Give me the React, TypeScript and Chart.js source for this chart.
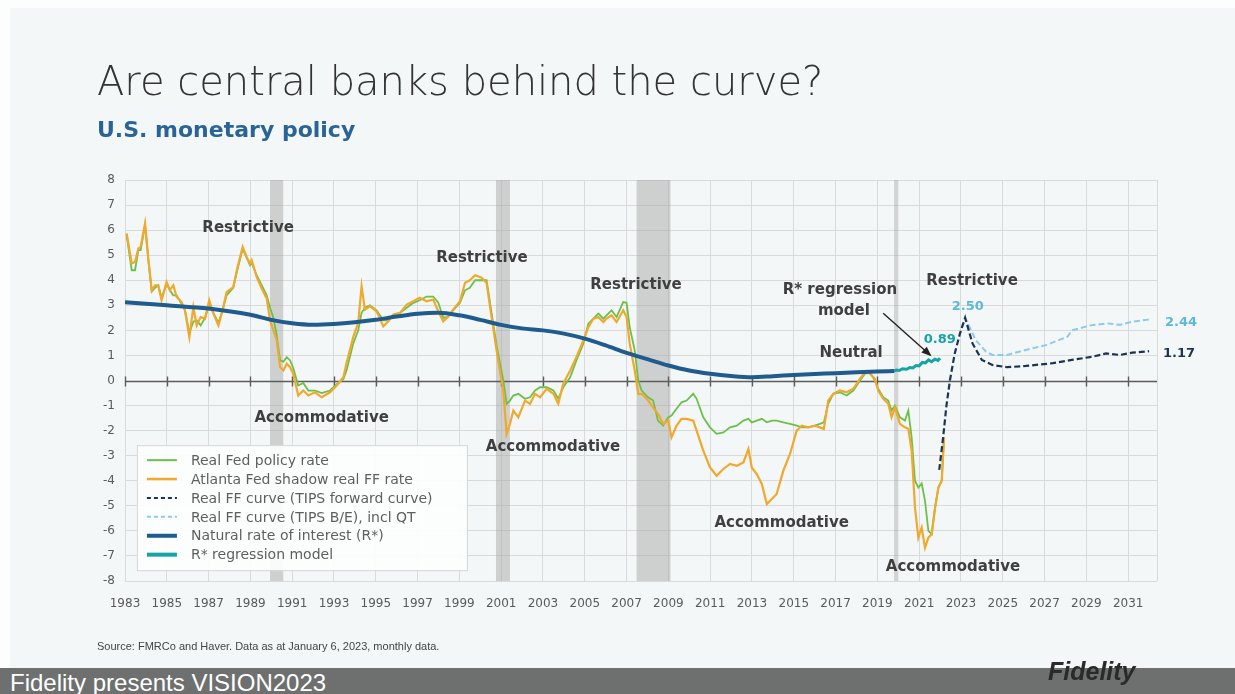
import React, { useEffect, useRef } from "react";
import { Chart, registerables } from "chart.js";

Chart.register(...registerables);

// ---------- DATA ----------
const policyDates = [
  1983.08, 1983.32, 1983.48, 1983.64, 1983.75, 1983.96, 1984.12, 1984.28, 1984.44, 1984.59,
  1984.75, 1984.99, 1985.15, 1985.31, 1985.47, 1985.71, 1985.87, 1986.08, 1986.27, 1986.43,
  1986.62, 1986.83, 1987.03, 1987.23, 1987.47, 1987.67, 1987.86, 1988.18, 1988.37, 1988.63,
  1988.82, 1988.98, 1989.06, 1989.3, 1989.54, 1989.78, 1989.94, 1990.1, 1990.26, 1990.42,
  1990.58, 1990.74, 1990.9, 1991.05, 1991.29, 1991.53, 1991.77, 1992.09, 1992.41, 1992.81,
  1993.13, 1993.45, 1993.6, 1993.93, 1994.16, 1994.32, 1994.48, 1994.72, 1995.04, 1995.36,
  1995.6, 1995.84, 1996.16, 1996.48, 1996.8, 1997.1, 1997.43, 1997.75, 1997.99, 1998.23,
  1998.47, 1998.7, 1999.03, 1999.27, 1999.5, 1999.75, 2000.06, 2000.3, 2000.54, 2000.78,
  2001.1, 2001.26, 2001.42, 2001.58, 2001.82, 2002.14, 2002.38, 2002.62, 2002.86, 2003.18,
  2003.5, 2003.73, 2003.97, 2004.3, 2004.6, 2004.93, 2005.17, 2005.41, 2005.65, 2005.89,
  2006.04, 2006.28, 2006.52, 2006.84, 2007.0, 2007.15, 2007.39, 2007.56, 2007.72, 2008.03,
  2008.27, 2008.5, 2008.75, 2008.99, 2009.15, 2009.39, 2009.63, 2009.87, 2010.19, 2010.35,
  2010.67, 2010.99, 2011.31, 2011.63, 2011.95, 2012.27, 2012.59, 2012.83, 2012.99, 2013.23,
  2013.47, 2013.71, 2013.95, 2014.18, 2014.5, 2014.82, 2015.14, 2015.38, 2015.7, 2016.01,
  2016.25, 2016.44, 2016.65, 2016.89, 2017.21, 2017.53, 2017.85, 2018.17, 2018.41, 2018.64,
  2018.88, 2019.04, 2019.28, 2019.52, 2019.68, 2019.84, 2020.08, 2020.32, 2020.48, 2020.64,
  2020.8, 2020.96, 2021.12, 2021.28, 2021.44, 2021.6, 2021.76, 2021.92, 2022.08, 2022.19,
];

const shadowRates = [
  5.87, 4.67, 4.73, 5.27, 5.33, 6.27, 4.8, 3.6, 3.8, 3.8,
  3.2, 3.93, 3.6, 3.8, 3.33, 3.13, 2.8, 1.73, 2.93, 2.2,
  2.53, 2.47, 3.2, 2.67, 2.2, 2.8, 3.53, 3.73, 4.47, 5.33,
  4.93, 4.67, 4.8, 4.13, 3.67, 3.27, 2.4, 2.0, 1.6, 0.53,
  0.4, 0.67, 0.53, 0.27, -0.6, -0.4, -0.6, -0.47, -0.67, -0.47,
  -0.2, 0.13, 0.7, 1.76, 2.3, 3.76, 2.83, 2.96, 2.76, 2.16,
  2.36, 2.63, 2.7, 3.03, 3.16, 3.3, 3.16, 3.23, 2.76, 2.36,
  2.56, 2.83, 3.16, 3.9, 4.0, 4.2, 4.1, 3.9, 2.53, 1.2,
  -0.4, -2.13, -1.73, -1.2, -1.47, -0.8, -0.93, -0.53, -0.67, -0.33,
  -0.53, -0.93, -0.13, 0.4, 0.93, 1.6, 2.13, 2.47, 2.53, 2.33,
  2.47, 2.6, 2.33, 2.8, 2.53, 1.47, 0.4, -0.53, -0.53, -0.8,
  -1.07, -1.33, -1.73, -1.6, -2.27, -1.8, -1.53, -1.53, -1.6, -2.0,
  -2.8, -3.47, -3.8, -3.53, -3.33, -3.4, -3.27, -2.73, -3.47, -3.73,
  -4.13, -4.93, -4.73, -4.53, -3.6, -2.93, -2.0, -1.8, -1.87, -1.8,
  -1.87, -1.93, -0.8, -0.53, -0.4, -0.47, -0.33, 0.07, 0.33, 0.27,
  0.07, -0.4, -0.73, -0.93, -1.47, -1.07, -1.73, -1.87, -1.93, -2.8,
  -5.07, -6.27, -5.87, -6.67, -6.27, -6.13, -5.07, -4.27, -4.0, -2.27,
];

const realFedRates = [
  5.8, 4.4, 4.4, 5.2, 5.2, 6.2, 4.8, 3.55, 3.7, 3.8,
  3.3, 3.85, 3.6, 3.4, 3.4, 3.05, 2.8, 1.9, 2.35, 2.4,
  2.2, 2.5, 3.0, 2.7, 2.3, 2.8, 3.4, 3.7, 4.4, 5.25,
  4.9, 4.6, 4.7, 4.2, 3.8, 3.4, 2.9, 2.5, 1.8, 0.8,
  0.75, 0.93, 0.8, 0.5, -0.2, -0.1, -0.4, -0.4, -0.5, -0.4,
  -0.15, 0.05, 0.4, 1.5, 2.0, 2.7, 2.9, 3.0, 2.8, 2.4,
  2.4, 2.6, 2.7, 2.9, 3.1, 3.2, 3.35, 3.35, 3.1, 2.5,
  2.55, 2.8, 3.1, 3.6, 3.7, 4.0, 4.0, 4.0, 2.7, 1.4,
  0.0, -0.93, -0.8, -0.6, -0.53, -0.73, -0.67, -0.4, -0.27, -0.27,
  -0.4, -0.73, -0.27, 0.13, 0.8, 1.47, 2.27, 2.47, 2.67, 2.47,
  2.6, 2.8, 2.53, 3.13, 3.1, 2.13, 1.2, 0.0, -0.4, -0.67,
  -0.8, -1.6, -1.8, -1.47, -1.4, -1.13, -0.87, -0.8, -0.53, -0.73,
  -1.47, -1.87, -2.13, -2.07, -1.87, -1.8, -1.6, -1.53, -1.67, -1.6,
  -1.53, -1.67, -1.6, -1.6, -1.67, -1.73, -1.8, -1.87, -1.87, -1.8,
  -1.73, -1.67, -0.93, -0.53, -0.47, -0.6, -0.4, 0.0, 0.27, 0.33,
  0.0, -0.33, -0.67, -0.8, -1.2, -1.0, -1.47, -1.6, -1.2, -2.27,
  -4.0, -4.27, -4.1, -4.8, -6.0, -6.13, -5.07, -4.27, -4.0, -2.27,
];

const rStarDates = [
  1983, 1985, 1987, 1989, 1990, 1991, 1992, 1993, 1994, 1995,
  1996, 1997, 1998, 1999, 2000, 2001, 2002, 2003, 2004, 2005,
  2006, 2007, 2008, 2009, 2010, 2011, 2012, 2013, 2014, 2015,
  2016, 2017, 2018, 2019, 2019.8,
];
const rStarValues = [
  3.12, 3.0, 2.87, 2.62, 2.42, 2.28, 2.22, 2.25, 2.32, 2.42,
  2.55, 2.66, 2.7, 2.6, 2.42, 2.22, 2.08, 2.0, 1.87, 1.67,
  1.4, 1.1, 0.85, 0.6, 0.4, 0.27, 0.18, 0.13, 0.17, 0.22,
  0.26, 0.29, 0.33, 0.36, 0.38,
];

const regressionDates = [
  2019.76, 2019.9, 2020.05, 2020.2, 2020.4, 2020.55, 2020.7, 2020.85,
  2021.0, 2021.15, 2021.3, 2021.45, 2021.6, 2021.75, 2021.9, 2022.0,
];
const regressionValues = [
  0.36, 0.42, 0.4, 0.47, 0.45, 0.52, 0.5, 0.6,
  0.58, 0.72, 0.7, 0.82, 0.75, 0.85, 0.8, 0.89,
];

const forwardDates = [
  2021.96, 2022.15, 2022.3, 2022.47, 2022.7, 2022.95, 2023.2, 2023.55, 2024.0, 2024.5,
  2025.2, 2026.1, 2027.4, 2028.3, 2029.3, 2029.95, 2030.6, 2031.2, 2032.0,
];
const forwardValues = [
  -3.57, -2.24, -1.04, 0.0, 1.07, 1.87, 2.5, 1.48, 0.82, 0.62,
  0.53, 0.58, 0.69, 0.82, 0.95, 1.08, 1.02, 1.11, 1.17,
];

const breakevenDates = [
  2023.02, 2023.2, 2023.7, 2024.2, 2024.5, 2025.2, 2026.1, 2027.1, 2028.1, 2028.3,
  2029.2, 2030.0, 2030.6, 2031.2, 2032.1,
];
const breakevenValues = [
  2.1, 2.5, 1.62, 1.15, 1.02, 1.02, 1.22, 1.42, 1.75, 2.0,
  2.2, 2.28, 2.22, 2.35, 2.44,
];

const recessionStarts = [1989.94, 2000.75, 2007.48, 2019.8];
const recessionEnds = [1990.57, 2001.42, 2009.1, 2020.0];

const yearTicks = [
  1983, 1985, 1987, 1989, 1991, 1993, 1995, 1997, 1999, 2001, 2003, 2005, 2007,
  2009, 2011, 2013, 2015, 2017, 2019, 2021, 2023, 2025, 2027, 2029, 2031,
];

const legendLabels = [
  "Real Fed policy rate",
  "Atlanta Fed shadow real FF rate",
  "Real FF curve (TIPS forward curve)",
  "Real FF curve (TIPS B/E), incl QT",
  "Natural rate of interest (R*)",
  "R* regression model",
];

// ---------- STYLE ----------
const C_GREEN = "#6cbf4c";
const C_ORANGE = "#f0a92c";
const C_NAVY = "#1f5b8e";
const C_TEAL = "#17a3a5";
const C_DARKDASH = "#1b3456";
const C_LIGHTDASH = "#8ccbe8";
const FONT = '"DejaVu Sans", sans-serif';

const X_MIN = 1983;
const X_MAX = 2032.38;

const pts = (xs: number[], ys: number[]) => xs.map((x, i) => ({ x, y: ys[i] }));

const overlayPlugin = {
  id: "overlay",
  beforeDatasetsDraw(chart: any) {
    const { ctx, chartArea, scales } = chart;
    const x = scales.x;
    const y = scales.y;
    ctx.save();
    for (let i = 0; i < recessionStarts.length; i++) {
      const x0 = x.getPixelForValue(recessionStarts[i]);
      const x1 = x.getPixelForValue(recessionEnds[i]);
      ctx.fillStyle = i === 3 ? "rgba(150,150,150,0.35)" : "rgba(160,160,160,0.45)";
      ctx.fillRect(x0, chartArea.top, x1 - x0, chartArea.bottom - chartArea.top);
    }
    const y0 = Math.round(y.getPixelForValue(0)) + 0.5;
    ctx.strokeStyle = "#5c5c5c";
    ctx.lineWidth = 1.4;
    ctx.beginPath();
    ctx.moveTo(chartArea.left, y0);
    ctx.lineTo(chartArea.right, y0);
    for (const yr of yearTicks) {
      const px = Math.round(x.getPixelForValue(yr)) + 0.5;
      ctx.moveTo(px, y0 - 5);
      ctx.lineTo(px, y0 + 5);
    }
    ctx.stroke();
    ctx.restore();
  },
  afterDatasetsDraw(chart: any) {
    const { ctx, scales } = chart;
    const x = scales.x;
    const y = scales.y;
    const px = (v: number) => x.getPixelForValue(v);
    const py = (v: number) => y.getPixelForValue(v);
    ctx.save();
    ctx.textAlign = "center";
    ctx.textBaseline = "middle";

    ctx.fillStyle = "#3f3f3f";
    ctx.font = `bold 15px ${FONT}`;
    const regimes: [string, number, number][] = [
      ["Restrictive", 1988.89, 6.09],
      ["Restrictive", 2000.08, 4.89],
      ["Restrictive", 2007.45, 3.81],
      ["Restrictive", 2023.53, 3.97],
      ["Accommodative", 1992.41, -1.5],
      ["Accommodative", 2003.48, -2.64],
      ["Accommodative", 2014.42, -5.69],
      ["Accommodative", 2022.62, -7.43],
      ["Neutral", 2017.74, 1.09],
      ["R* regression", 2017.21, 3.61],
      ["model", 2017.4, 2.75],
    ];
    for (const [t, a, b] of regimes) ctx.fillText(t, px(a), py(b));

    ctx.font = `bold 13px ${FONT}`;
    ctx.fillStyle = C_TEAL;
    ctx.fillText("0.89", px(2021.99), py(1.62));
    ctx.fillStyle = "#5cb9d8";
    ctx.fillText("2.50", px(2023.33), py(2.95));
    ctx.fillText("2.44", px(2033.53), py(2.31));
    ctx.fillStyle = C_DARKDASH;
    ctx.fillText("1.17", px(2033.43), py(1.09));

    const ax0 = px(2019.28), ay0 = py(2.68), ax1 = px(2021.52), ay1 = py(1.02);
    ctx.strokeStyle = "#222";
    ctx.fillStyle = "#222";
    ctx.lineWidth = 1.4;
    ctx.beginPath();
    ctx.moveTo(ax0, ay0);
    ctx.lineTo(ax1, ay1);
    ctx.stroke();
    const ang = Math.atan2(ay1 - ay0, ax1 - ax0);
    ctx.beginPath();
    ctx.moveTo(ax1 + 2 * Math.cos(ang), ay1 + 2 * Math.sin(ang));
    ctx.lineTo(ax1 - 8 * Math.cos(ang) + 4 * Math.sin(ang), ay1 - 8 * Math.sin(ang) - 4 * Math.cos(ang));
    ctx.lineTo(ax1 - 8 * Math.cos(ang) - 4 * Math.sin(ang), ay1 - 8 * Math.sin(ang) + 4 * Math.cos(ang));
    ctx.closePath();
    ctx.fill();

    const lx = px(1983.57), ly = py(-2.58);
    const lw = 330, lh = 125;
    ctx.fillStyle = "rgba(252,253,253,0.95)";
    ctx.fillRect(lx, ly, lw, lh);
    ctx.strokeStyle = "#d6d6d6";
    ctx.lineWidth = 1;
    ctx.strokeRect(lx + 0.5, ly + 0.5, lw, lh);
    const styles = [
      { c: C_GREEN, w: 2, d: [] as number[] },
      { c: C_ORANGE, w: 2.5, d: [] as number[] },
      { c: C_DARKDASH, w: 2, d: [4, 3] },
      { c: C_LIGHTDASH, w: 2, d: [4, 3] },
      { c: C_NAVY, w: 4, d: [] as number[] },
      { c: C_TEAL, w: 4, d: [] as number[] },
    ];
    ctx.textAlign = "left";
    ctx.font = `14px ${FONT}`;
    for (let i = 0; i < legendLabels.length; i++) {
      const ry = ly + 15 + i * 18.9;
      const s = styles[i];
      ctx.strokeStyle = s.c;
      ctx.lineWidth = s.w;
      ctx.setLineDash(s.d);
      ctx.beginPath();
      ctx.moveTo(lx + 10, ry);
      ctx.lineTo(lx + 40, ry);
      ctx.stroke();
      ctx.setLineDash([]);
      ctx.fillStyle = "#5f5f5f";
      ctx.fillText(legendLabels[i], lx + 54, ry + 1);
    }
    ctx.restore();
  },
};

export default function App() {
  const canvasRef = useRef<HTMLCanvasElement | null>(null);

  useEffect(() => {
    const canvas = canvasRef.current;
    if (!canvas) return;
    const base = { pointRadius: 0, pointHoverRadius: 0, fill: false, spanGaps: true };
    const chart = new Chart(canvas, {
      type: "line",
      data: {
        datasets: [
          {
            ...base,
            label: legendLabels[4],
            data: pts(rStarDates, rStarValues),
            borderColor: C_NAVY,
            borderWidth: 4,
            cubicInterpolationMode: "monotone",
            order: 0,
          },
          {
            ...base,
            label: legendLabels[5],
            data: pts(regressionDates, regressionValues),
            borderColor: C_TEAL,
            borderWidth: 3,
            order: 1,
          },
          {
            ...base,
            label: legendLabels[2],
            data: pts(forwardDates, forwardValues),
            borderColor: C_DARKDASH,
            borderWidth: 2.2,
            borderDash: [6, 3],
            order: 2,
          },
          {
            ...base,
            label: legendLabels[3],
            data: pts(breakevenDates, breakevenValues),
            borderColor: C_LIGHTDASH,
            borderWidth: 2,
            borderDash: [6, 3],
            order: 3,
          },
          {
            ...base,
            label: legendLabels[1],
            data: pts(policyDates, shadowRates),
            borderColor: C_ORANGE,
            borderWidth: 2.2,
            order: 4,
          },
          {
            ...base,
            label: legendLabels[0],
            data: pts(policyDates, realFedRates),
            borderColor: C_GREEN,
            borderWidth: 1.8,
            order: 5,
          },
        ],
      },
      options: {
        animation: false,
        responsive: false,
        events: [],
        layout: { padding: { left: 0, top: 180, right: 78, bottom: 0 } },
        plugins: { legend: { display: false }, tooltip: { enabled: false }, title: { display: false } },
        scales: {
          x: {
            type: "linear",
            min: X_MIN,
            max: X_MAX,
            afterBuildTicks: (s: any) => {
              s.ticks = yearTicks.map((v) => ({ value: v })).concat([{ value: X_MAX }]);
            },
            afterFit: (s: any) => {
              s.height = 113;
            },
            ticks: {
              autoSkip: false,
              maxRotation: 0,
              padding: 16,
              color: "#5a5a5a",
              font: { family: FONT, size: 12 },
              callback: (v: any) => (yearTicks.includes(v) ? String(v) : ""),
            },
            grid: { color: "#dadada", lineWidth: 1, drawTicks: false },
            border: { display: false },
          },
          y: {
            min: -8,
            max: 8,
            afterFit: (s: any) => {
              s.width = 125;
            },
            ticks: {
              stepSize: 1,
              padding: 10,
              color: "#5a5a5a",
              font: { family: FONT, size: 12 },
            },
            grid: {
              color: (c: any) => (c.tick && c.tick.value === 0 ? "rgba(0,0,0,0)" : "#dadada"),
              lineWidth: 1,
              drawTicks: false,
            },
            border: { display: false },
          },
        },
      },
      plugins: [overlayPlugin],
    } as any);
    return () => chart.destroy();
  }, []);

  return (
    <div
      style={{
        position: "fixed",
        left: 0,
        top: 0,
        width: 1235,
        height: 694,
        overflow: "hidden",
        background: "#fcfdfd",
      }}
    >
      <div style={{ position: "absolute", left: 10, top: 8, width: 1225, height: 660, background: "#f4f7f7" }} />
      <canvas ref={canvasRef} width={1235} height={694} style={{ position: "absolute", left: 0, top: 0, width: 1235, height: 694 }} />
      <div
        style={{
          position: "absolute",
          left: 97,
          top: 61,
          fontFamily: FONT,
          fontWeight: 200,
          fontSize: 40,
          lineHeight: "40px",
          color: "#333333",
          whiteSpace: "nowrap",
        }}
      >
        Are central banks behind the curve?
      </div>
      <div
        style={{
          position: "absolute",
          left: 97,
          top: 119,
          fontFamily: FONT,
          fontWeight: 700,
          fontSize: 22,
          lineHeight: "22px",
          color: "#2a6496",
          whiteSpace: "nowrap",
        }}
      >
        U.S. monetary policy
      </div>
      <div
        style={{
          position: "absolute",
          left: 97,
          top: 641,
          fontFamily: '"Liberation Sans", Arial, sans-serif',
          fontSize: 11,
          lineHeight: "11px",
          color: "#444",
          whiteSpace: "nowrap",
        }}
      >
        Source: FMRCo and Haver. Data as at January 6, 2023, monthly data.
      </div>
      <div style={{ position: "absolute", left: 0, top: 668, width: 1235, height: 26, background: "#6d706e" }} />
      <div
        style={{
          position: "absolute",
          left: 10,
          top: 671,
          fontFamily: '"Liberation Sans", Arial, sans-serif',
          fontSize: 24,
          lineHeight: "24px",
          color: "#ffffff",
          whiteSpace: "nowrap",
        }}
      >
        Fidelity presents VISION2023
      </div>
      <div
        style={{
          position: "absolute",
          left: 1048,
          top: 659,
          fontFamily: '"Liberation Sans", Arial, sans-serif',
          fontStyle: "italic",
          fontWeight: 700,
          fontSize: 25,
          lineHeight: "25px",
          color: "#2a2a2a",
          whiteSpace: "nowrap",
        }}
      >
        Fidelity
      </div>
    </div>
  );
}
